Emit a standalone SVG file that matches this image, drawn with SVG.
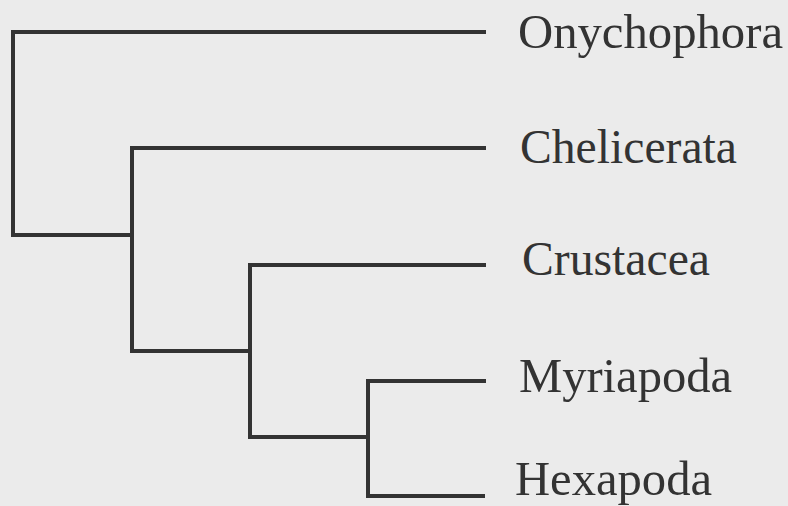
<svg xmlns="http://www.w3.org/2000/svg" width="788" height="506" viewBox="0 0 788 506">
<style>
.bg{fill:#ebebeb}
.br{fill:none;stroke:#333;stroke-width:4;stroke-linejoin:miter;stroke-linecap:butt}
.lbl{font-family:"Liberation Serif","Times New Roman",serif;font-size:48px;fill:#333}
</style>
<rect class="bg" x="0" y="0" width="788" height="506"/>
<g id="connectors">
<path class="br" d="M486,32 H13 V235 H132"/>
<path class="br" d="M486,148 H132 V351 H250"/>
<path class="br" d="M486,265 H250 V437 H368"/>
<path class="br" d="M486,381 H368 V496 H485"/>
</g>
<g id="Onychophora"><text class="lbl" x="518" y="48" textLength="265" lengthAdjust="spacingAndGlyphs">Onychophora</text></g>
<g id="Chelicerata"><text class="lbl" x="520" y="163" textLength="217" lengthAdjust="spacingAndGlyphs">Chelicerata</text></g>
<g id="Crustacea"><text class="lbl" x="522" y="275" textLength="188" lengthAdjust="spacingAndGlyphs">Crustacea</text></g>
<g id="Myriapoda"><text class="lbl" x="519" y="392" textLength="213" lengthAdjust="spacingAndGlyphs">Myriapoda</text></g>
<g id="Hexapoda"><text class="lbl" x="515" y="495" textLength="197" lengthAdjust="spacingAndGlyphs">Hexapoda</text></g>
</svg>
